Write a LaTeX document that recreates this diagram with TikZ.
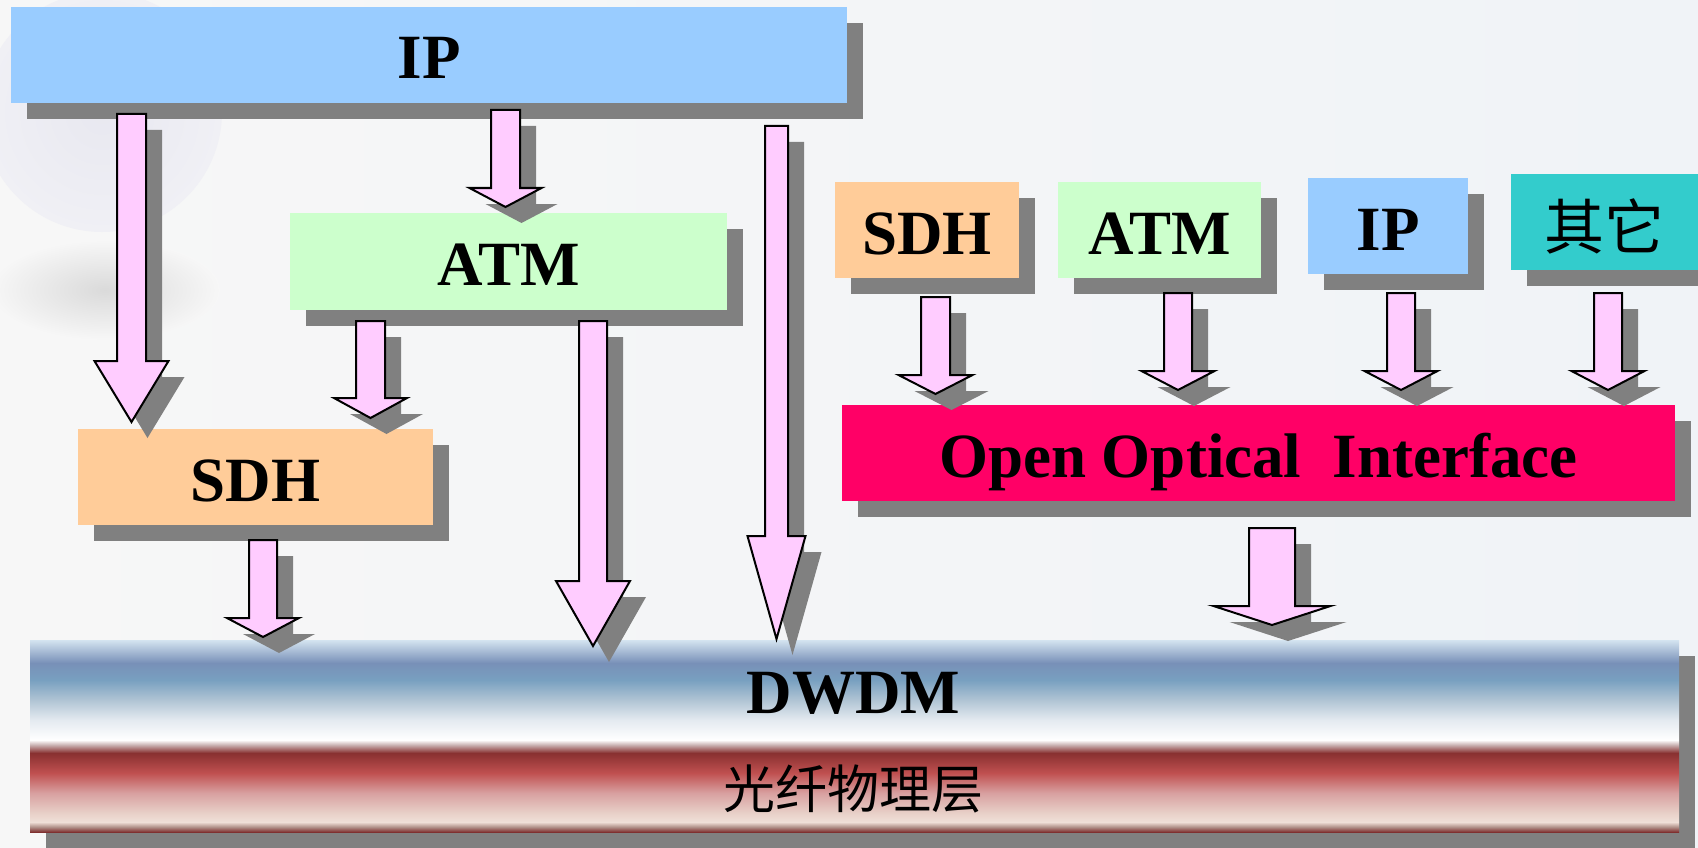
\documentclass[tikz,border=0pt]{standalone}
\usepackage{fontspec}
\setmainfont{Liberation Serif}
\newfontfamily\cjk{Noto Sans CJK SC}

\definecolor{ipblue}{HTML}{99CCFF}
\definecolor{atmgreen}{HTML}{CCFFCC}
\definecolor{sdhorange}{HTML}{FFCC99}
\definecolor{otherteal}{HTML}{33CCCC}
\definecolor{ooired}{HTML}{FF0066}
\definecolor{arrowpink}{HTML}{FFCCFF}
\definecolor{shadowgray}{HTML}{808080}
\definecolor{bgleft}{HTML}{F7F7F7}
\definecolor{bgright}{HTML}{F0F3F7}
\definecolor{globefill}{HTML}{E8E8F0}
\definecolor{globerim}{HTML}{F0F0F5}
\definecolor{blobgray}{HTML}{DADADA}

% colour stops of the DWDM / fibre band, bottom to top
\definecolor{bndA}{HTML}{803030}
\definecolor{bndB}{HTML}{B09088}
\definecolor{bndC}{HTML}{F0E0D8}
\definecolor{bndD}{HTML}{E8D0C8}
\definecolor{bndE}{HTML}{D8A0A0}
\definecolor{bndF}{HTML}{C05050}
\definecolor{bndG}{HTML}{883030}
\definecolor{bndH}{HTML}{C8B0B0}
\definecolor{bndI}{HTML}{FFFFFF}
\definecolor{bndJ}{HTML}{E4EAF0}
\definecolor{bndK}{HTML}{B0C4D4}
\definecolor{bndL}{HTML}{78A0C0}
\definecolor{bndM}{HTML}{7890B8}
\definecolor{bndN}{HTML}{D4E4F0}
\pgfdeclareverticalshading{dwdmband}{100bp}{%
  color(0bp)=(bndA); color(25bp)=(bndA); color(26.3bp)=(bndB);
  color(27.6bp)=(bndC); color(29.95bp)=(bndD); color(35.16bp)=(bndE);
  color(40.36bp)=(bndF); color(45.57bp)=(bndG); color(47.66bp)=(bndH);
  color(48.96bp)=(bndI); color(54.17bp)=(bndJ); color(59.38bp)=(bndK);
  color(64.58bp)=(bndL); color(69.01bp)=(bndM); color(75bp)=(bndN);
  color(100bp)=(bndN)}

\newcommand\layerfont{\fontsize{63}{70}\selectfont\bfseries}

% block arrow: centre x, half shaft width, top, head base, half head width, tip
\newcommand\blockarrow[6]{%
  \fill[shadowgray, shift={(16,16)}]
    (#1-#2,#3) -- (#1+#2,#3) -- (#1+#2,#4) -- (#1+#5,#4) -- (#1,#6)
    -- (#1-#5,#4) -- (#1-#2,#4) -- cycle;
  \draw[arrowline]
    (#1-#2,#3) -- (#1+#2,#3) -- (#1+#2,#4) -- (#1+#5,#4) -- (#1,#6)
    -- (#1-#5,#4) -- (#1-#2,#4) -- cycle;
}

\begin{document}
\begin{tikzpicture}[x=1pt, y=-1pt,
  layerbox/.style={rectangle, inner sep=0pt, text height=48pt, text depth=0pt,
    font=\layerfont,
    preaction={fill=shadowgray, transform canvas={xshift=16pt, yshift=-16pt}}},
  arrowline/.style={draw=black, fill=arrowpink, line width=2pt, line join=miter},
]
\useasboundingbox (0,0) rectangle (1698,848);
\clip (0,0) rectangle (1698,848);

% backdrop with a pale globe and its soft shadow
\shade[left color=bgleft, right color=bgright] (0,0) rectangle (1698,848);
\shade[inner color=blobgray, outer color=bgleft] (105,290) ellipse [x radius=115, y radius=50];
\shade[inner color=globefill, outer color=globerim] (102,112) circle [radius=120];

% protocol layers on the left
\node[layerbox, fill=ipblue, minimum width=836pt, minimum height=96pt] (ipTop) at (429,55) {IP};
\node[layerbox, fill=atmgreen, minimum width=437pt, minimum height=97pt] (atmLeft) at (508.5,261.5) {ATM};
\node[layerbox, fill=sdhorange, minimum width=355pt, minimum height=96pt] (sdhLeft) at (255.5,477) {SDH};

% client signals on the right
\node[layerbox, fill=sdhorange, minimum width=184pt, minimum height=96pt] (sdhRight) at (927,230) {SDH};
\node[layerbox, fill=atmgreen, minimum width=203pt, minimum height=96pt] (atmRight) at (1159.5,230) {ATM};
\node[layerbox, fill=ipblue, minimum width=160pt, minimum height=96pt] (ipRight) at (1388,226) {IP};
\node[layerbox, fill=otherteal, minimum width=187pt, minimum height=96pt, text height=54pt,
  font=\cjk\fontsize{60}{66}\selectfont] (others) at (1604.5,222) {其它};
\node[layerbox, fill=ooired, minimum width=833pt, minimum height=96pt] (ooi) at (1258.5,453) {Open Optical\ \ Interface};

% DWDM over the fibre layer
\node[layerbox, shading=dwdmband, minimum width=1649pt, minimum height=192pt] (band) at (854.5,736) {};
\node[font=\layerfont, inner sep=0pt, anchor=base] (dwdm) at (853.5,713) {DWDM};
\node[font=\cjk\fontsize{52}{58}\selectfont, inner sep=0pt, anchor=base] (fiber) at (853.5,808) {光纤物理层};

% mappings between the layers
\blockarrow{131.5}{14.5}{114}{361}{37}{422}
\blockarrow{505.5}{14.5}{110}{188}{36}{207}
\blockarrow{776.5}{11.5}{126}{536}{29}{639}
\blockarrow{370.5}{14.5}{321}{398}{36.5}{418}
\blockarrow{593}{14}{321}{581}{37}{646}
\blockarrow{263}{14}{540}{618}{36}{637}
\blockarrow{935.5}{14.5}{297}{375}{37}{394}
\blockarrow{1178}{14}{293}{371}{36.5}{390}
\blockarrow{1401}{14}{293}{371}{36.5}{390}
\blockarrow{1608}{14}{293}{371}{36.5}{390}
\blockarrow{1272}{23}{528}{606}{58.5}{625}
\end{tikzpicture}
\end{document}
